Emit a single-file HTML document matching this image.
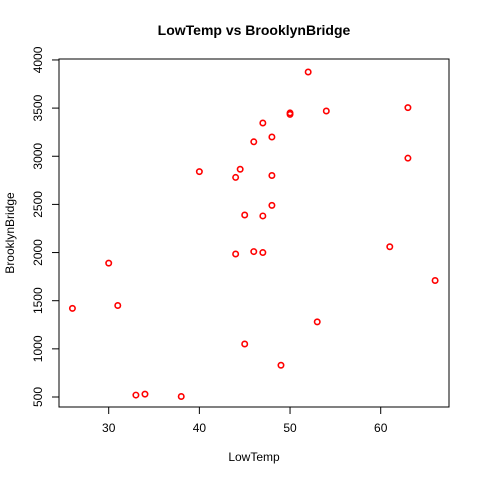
<!DOCTYPE html>
<html><head><meta charset="utf-8"><style>
html,body{margin:0;padding:0;background:#fff;}
svg{display:block;font-family:"Liberation Sans",sans-serif;}
</style></head><body>
<svg id="chart" width="480" height="480" viewBox="0 0 480 480">
<rect width="480" height="480" fill="#fff"/>
<text x="254" y="35" text-anchor="middle" font-size="14" font-weight="bold">LowTemp vs BrooklynBridge</text>
<text x="254" y="461" text-anchor="middle" font-size="12">LowTemp</text>
<text transform="translate(14,233) rotate(-90)" text-anchor="middle" font-size="12">BrooklynBridge</text>
<rect x="59" y="59" width="390" height="348" fill="none" stroke="#000"/>
<g id="xaxis"></g>
<g id="yaxis"></g>
<g id="points"></g>
</svg>
<script>
const lowTemp=[26,30,31,33,34,38,40,44,44.5,44,45,45,46,46,47,47,47,48,48,48,49,50,50,52,53,54,61,63,63,66];
const brooklyn=[1420,1890,1450,520,530,505,2840,2780,2865,1985,2390,1050,3150,2010,3345,2380,2000,3200,2800,2490,830,3450,3435,3875,1280,3470,2060,3505,2980,1710];
const xTicks=[30,40,50,60];
const yTicks=[500,1000,1500,2000,2500,3000,3500,4000];
const NS="http://www.w3.org/2000/svg";
function sx(v){return 108.7+(v-30)*9.067;}
function sy(v){return 397-(v-500)*0.0963;}
function mk(tag,attrs,parent){const e=document.createElementNS(NS,tag);for(const k in attrs)e.setAttribute(k,attrs[k]);parent.appendChild(e);return e;}
const xa=document.getElementById('xaxis'),ya=document.getElementById('yaxis'),pts=document.getElementById('points');
mk('line',{x1:sx(xTicks[0]),x2:sx(xTicks[xTicks.length-1]),y1:407,y2:407,stroke:'#000'},xa);
xTicks.forEach(t=>{
  const l=mk('line',{x1:sx(t),x2:sx(t),y1:407,y2:414,stroke:'#000'},xa);
  
  
  const tx=mk('text',{x:sx(t),y:432,'text-anchor':'middle','font-size':12},xa);
  tx.textContent=t;
  
  
});
mk('line',{x1:59,x2:59,y1:sy(yTicks[0]),y2:sy(yTicks[yTicks.length-1]),stroke:'#000'},ya);
yTicks.forEach(t=>{
  const l=mk('line',{x1:52,x2:59,y1:sy(t),y2:sy(t),stroke:'#000'},ya);
  
  
  const tx=mk('text',{transform:'translate(42,'+sy(t)+') rotate(-90)','text-anchor':'middle','font-size':12},ya);
  tx.textContent=t;
  
  
});
lowTemp.forEach((x,i)=>{
  const c=mk('circle',{cx:sx(x),cy:sy(brooklyn[i]),r:2.7,fill:'none',stroke:'#ff0000','stroke-width':1.6},pts);
  
  
});
</script>
</body></html>
